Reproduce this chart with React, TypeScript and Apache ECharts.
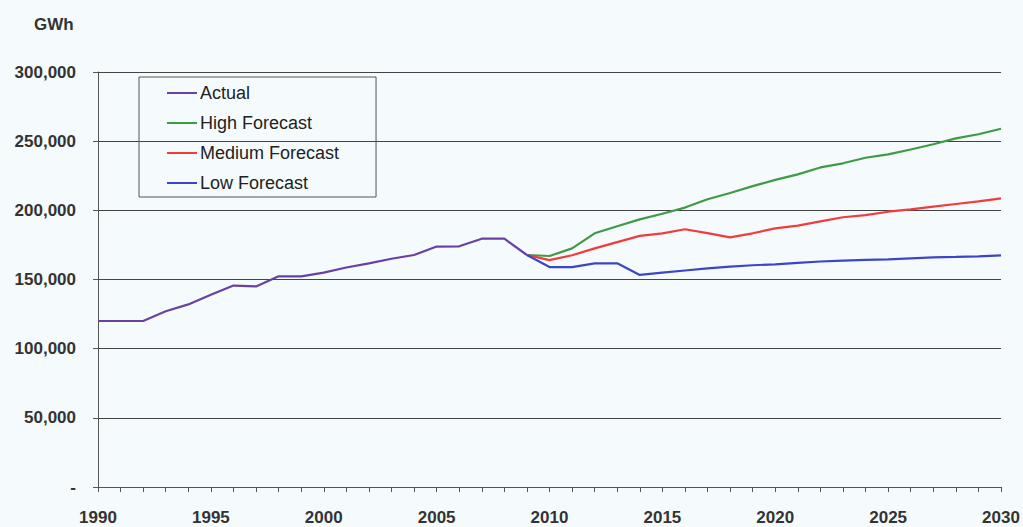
import React, { useEffect, useRef } from "react";
import * as echarts from "echarts";

const years: string[] = [];
for (let y = 1990; y <= 2030; y++) years.push(String(y));

// GWh (thousands * 1000)
const actual = [120, 120, 120, 127, 132, 139, 145.6, 145, 152.3, 152.3, 155, 158.7, 161.7, 165, 167.7, 173.8, 174, 179.5, 179.5, 167.7];
const highForecast = [167.7, 167, 172.5, 183.4, 188.5, 193.5, 197.5, 202, 208, 212.5, 217.5, 222, 226, 231, 234, 238, 240.5, 244, 247.8, 252, 255, 259];
const mediumForecast = [167.7, 164, 167.5, 172.5, 177, 181.5, 183.4, 186.3, 183.5, 180.5, 183.4, 187, 189, 192, 195, 196.5, 199, 200.7, 202.7, 204.6, 206.5, 208.7];
const lowForecast = [167.7, 159, 159, 161.7, 161.7, 153.3, 155, 156.5, 158, 159.3, 160.3, 161, 162, 163, 163.6, 164.2, 164.5, 165.3, 166, 166.3, 166.7, 167.5];

const forecastStart = 2009;

function pad(values: number[], startYear: number): (number | null)[] {
  return years.map((y) => {
    const i = Number(y) - startYear;
    return i >= 0 && i < values.length ? values[i] * 1000 : null;
  });
}

export default function App() {
  const ref = useRef<HTMLDivElement>(null);
  useEffect(() => {
    if (!ref.current) return;
    const chart = echarts.init(ref.current, null, { renderer: "svg" });
    const font = "'Liberation Sans', Arial, sans-serif";
    const lineSeries = (name: string, data: (number | null)[], color: string) => ({
      name,
      type: "line",
      data,
      symbol: "none",
      showSymbol: false,
      connectNulls: false,
      lineStyle: { color, width: 2.2 },
      itemStyle: { color },
    });
    chart.setOption({
      animation: false,
      backgroundColor: "#f5fbfd",
      title: {
        text: "GWh",
        left: 29,
        top: 11,
        textStyle: { fontFamily: font, fontSize: 17, fontWeight: "bold", color: "#333" },
      },
      legend: {
        orient: "vertical",
        left: 139,
        top: 77,
        padding: [7, 37, 5, 27],
        itemGap: 12,
        itemWidth: 30,
        itemHeight: 18,
        borderColor: "#555",
        borderWidth: 1,
        itemStyle: { opacity: 0 },
        textStyle: { fontFamily: font, fontSize: 18, color: "#222", padding: [0, 0, 0, -2] },
        data: ["Actual", "High Forecast", "Medium Forecast", "Low Forecast"],
      },
      grid: { left: 98, right: 22, top: 72, bottom: 40, containLabel: false },
      xAxis: {
        type: "category",
        data: years,
        boundaryGap: false,
        axisLine: { lineStyle: { color: "#555", width: 1 } },
        axisTick: { show: true, interval: 0, length: 5, lineStyle: { color: "#555" } },
        axisLabel: {
          interval: 4,
          margin: 22,
          fontFamily: font,
          fontSize: 17,
          fontWeight: "bold",
          color: "#333",
        },
        splitLine: { show: false },
      },
      yAxis: {
        type: "value",
        min: 0,
        max: 300000,
        interval: 50000,
        axisLine: { show: true, lineStyle: { color: "#555", width: 1 } },
        axisTick: { show: true, length: 5, lineStyle: { color: "#555" } },
        axisLabel: {
          margin: 22,
          fontFamily: font,
          fontSize: 17,
          fontWeight: "bold",
          color: "#333",
          formatter: (v: number) => (v === 0 ? "-" : v.toLocaleString("en-US")),
        },
        splitLine: { show: true, lineStyle: { color: "#444", width: 1 } },
      },
      series: [
        lineSeries("Actual", pad(actual, 1990), "#6a3fa6"),
        lineSeries("High Forecast", pad(highForecast, forecastStart), "#3f9a47"),
        lineSeries("Medium Forecast", pad(mediumForecast, forecastStart), "#f23b3b"),
        lineSeries("Low Forecast", pad(lowForecast, forecastStart), "#3c45c9"),
      ],
    });
    return () => chart.dispose();
  }, []);
  return (
    <div
      ref={ref}
      style={{ position: "fixed", left: 0, top: 0, width: 1023, height: 527 }}
    />
  );
}
